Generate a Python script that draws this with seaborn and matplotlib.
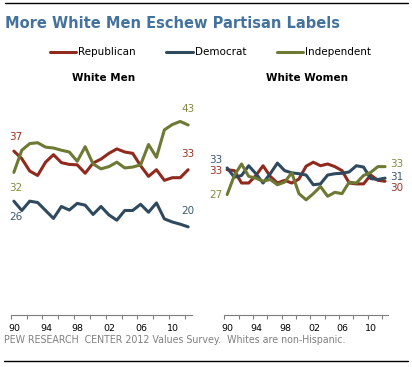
import numpy as np
import pandas as pd
import seaborn as sns
import matplotlib
matplotlib.use("Agg")
import matplotlib.pyplot as plt
from matplotlib.lines import Line2D
import matplotlib.transforms as mtransforms

# ---------------- data ----------------
years = list(range(1990, 2013))
parties = ["Republican", "Democrat", "Independent"]
panels = ["White Men", "White Women"]

men_rep = [37.0, 35.3, 32.5, 31.5, 34.5, 36.2, 34.4, 34.0, 33.9, 32.0, 34.3, 35.2,
           36.5, 37.5, 36.8, 36.5, 33.7, 31.3, 32.8, 30.4, 31.0, 31.0, 32.8]
men_dem = [25.7, 23.6, 25.7, 25.4, 23.6, 21.8, 24.5, 23.7, 25.2, 24.8, 22.7, 24.5,
           22.6, 21.4, 23.6, 23.6, 25.0, 23.2, 25.3, 21.7, 21.0, 20.5, 19.9]
men_ind = [32.2, 37.2, 38.7, 38.9, 37.9, 37.7, 37.2, 36.8, 34.7, 38.0, 34.1, 33.0,
           33.5, 34.5, 33.2, 33.4, 33.9, 38.5, 35.6, 41.8, 43.0, 43.7, 42.9]

women_rep = [32.8, 32.6, 29.8, 29.8, 31.5, 33.7, 31.3, 29.8, 30.4, 29.8, 30.7, 33.6,
             34.5, 33.7, 34.1, 33.5, 32.6, 29.8, 29.6, 29.6, 31.6, 30.4, 30.2]
women_dem = [33.2, 31.1, 31.5, 33.7, 31.9, 29.8, 31.9, 34.3, 32.6, 32.1, 31.9, 31.6,
             29.4, 29.6, 31.6, 31.9, 32.0, 32.3, 33.7, 33.4, 30.8, 30.6, 30.9]
women_ind = [27.2, 31.5, 34.1, 31.3, 30.9, 30.2, 30.6, 29.4, 30.0, 32.1, 27.4, 26.0,
             27.4, 29.0, 26.8, 27.7, 27.4, 30.0, 29.8, 31.5, 32.2, 33.5, 33.5]

first_labels_men = ["37", "26", "32"]
last_labels_men = ["33", "20", "43"]
first_labels_women = ["33", "33", "27"]
last_labels_women = ["30", "31", "33"]

tick_years = list(range(1990, 2013, 2))
label_years = [1990, 1994, 1998, 2002, 2006, 2010]

# ---------------- styles ----------------
colors = {"Republican": "#8F2A1D", "Democrat": "#2F4A5E", "Independent": "#6E7934"}
label_colors = {"Republican": "#9A3323", "Democrat": "#3A5870", "Independent": "#85893F"}

rows = []
data = {
    "White Men": {"Republican": men_rep, "Democrat": men_dem, "Independent": men_ind},
    "White Women": {"Republican": women_rep, "Democrat": women_dem, "Independent": women_ind},
}
for panel in panels:
    for party in parties:
        for y, v in zip(years, data[panel][party]):
            rows.append({"panel": panel, "party": party, "year": y, "pos": y + 0.4, "value": v})
df = pd.DataFrame(rows)

sns.set_theme(style="white")
plt.rcParams['font.family'] = ['DejaVu Sans']

W, H = 412, 367
fig = plt.figure(figsize=(W / 100, H / 100), dpi=100)
fig.patch.set_facecolor("white")


def rect(x0, x1, ytop, ybot):
    return [x0 / W, 1 - ybot / H, (x1 - x0) / W, (ybot - ytop) / H]


ax1 = fig.add_axes(rect(10.7, 191.7, 102.4, 315))
ax2 = fig.add_axes(rect(224.3, 388.3, 102.4, 315))

for ax, panel in zip([ax1, ax2], panels):
    sub = df[df.panel == panel]
    sns.lineplot(data=sub, x="pos", y="value", hue="party", hue_order=parties,
                 palette=colors, linewidth=2.2, legend=False, ax=ax)
    ax.set_xlim(1990, 2012.85)
    ax.set_ylim(0, 48)
    ax.set_xlabel("")
    ax.set_ylabel("")
    ax.set_yticks([])
    for s in ["top", "left", "right"]:
        ax.spines[s].set_visible(False)
    ax.spines["bottom"].set_color("#7F7F7F")
    ax.spines["bottom"].set_linewidth(0.8)
    ax.set_xticks(tick_years)
    ax.set_xticklabels([f"{y % 100:02d}" if y in label_years else "" for y in tick_years])
    ax.tick_params(axis="x", direction="out", length=3, width=0.8, color="#7F7F7F",
                   labelsize=6.8, labelcolor="black", pad=3.5, bottom=True)
    off = mtransforms.ScaledTranslation(3.5 / 100, 0, fig.dpi_scale_trans)
    for lab in ax.get_xticklabels():
        lab.set_transform(lab.get_transform() + off)
    ax.set_facecolor("white")
    ax.patch.set_alpha(0)

# panel titles
fig.text(104 / W, 1 - 78 / H, "White Men", ha="center", va="center",
         fontsize=7.5, fontweight="bold", color="black")
fig.text(306.7 / W, 1 - 78 / H, "White Women", ha="center", va="center",
         fontsize=7.5, fontweight="bold", color="black")

# end labels - White Men
men_first_off = {"Republican": (1.7, 14), "Democrat": (1.7, -15.9), "Independent": (1.7, -15.3)}
men_last_off = {"Republican": (0, 15.4), "Democrat": (0, 16.3), "Independent": (0, 15.7)}
for party, fl, ll in zip(parties, first_labels_men, last_labels_men):
    vals = data["White Men"][party]
    ax1.annotate(fl, xy=(years[0] + 0.4, vals[0]), xytext=men_first_off[party],
                 textcoords="offset pixels", ha="center", va="center",
                 fontsize=7.5, color=label_colors[party])
    ax1.annotate(ll, xy=(years[-1] + 0.4, vals[-1]), xytext=men_last_off[party],
                 textcoords="offset pixels", ha="center", va="center",
                 fontsize=7.5, color=label_colors[party])

# end labels - White Women
wom_first_off = {"Republican": (-11.6, -1), "Democrat": (-11.6, 7.9), "Independent": (-11.6, 0)}
wom_last_off = {"Republican": (11.7, -6.5), "Democrat": (11.7, 0.8), "Independent": (11.7, 2.3)}
for party, fl, ll in zip(parties, first_labels_women, last_labels_women):
    vals = data["White Women"][party]
    ax2.annotate(fl, xy=(years[0] + 0.4, vals[0]), xytext=wom_first_off[party],
                 textcoords="offset pixels", ha="center", va="center",
                 fontsize=7.5, color=label_colors[party])
    ax2.annotate(ll, xy=(years[-1] + 0.4, vals[-1]), xytext=wom_last_off[party],
                 textcoords="offset pixels", ha="center", va="center",
                 fontsize=7.5, color=label_colors[party])

# title
fig.text(5 / W, 1 - 23.5 / H, "More White Men Eschew Partisan Labels", ha="left", va="center",
         fontsize=10.5, fontweight="bold", color="#44729E")

# legend
leg_items = [("Republican", 50, 76, 78), ("Democrat", 166, 193, 195), ("Independent", 277, 303, 305)]
for party, lx0, lx1, tx in leg_items:
    fig.add_artist(Line2D([lx0 / W, lx1 / W], [1 - 52 / H, 1 - 52 / H],
                          color=colors[party], linewidth=2.2, transform=fig.transFigure))
    fig.text(tx / W, 1 - 52 / H, party, ha="left", va="center", fontsize=7.5, color="black")

# rules
fig.add_artist(Line2D([5 / W, 408 / W], [1 - 3.3 / H, 1 - 3.3 / H], color="black",
                      linewidth=1.0, transform=fig.transFigure))
fig.add_artist(Line2D([4 / W, 408 / W], [1 - 361 / H, 1 - 361 / H], color="black",
                      linewidth=1.0, transform=fig.transFigure))

# footer
fig.text(4 / W, 1 - 340 / H, "PEW RESEARCH  CENTER 2012 Values Survey.  Whites are non-Hispanic.",
         ha="left", va="center", fontsize=6.85, color="#808080")

fig.savefig("out.png", dpi=100, facecolor="white")
